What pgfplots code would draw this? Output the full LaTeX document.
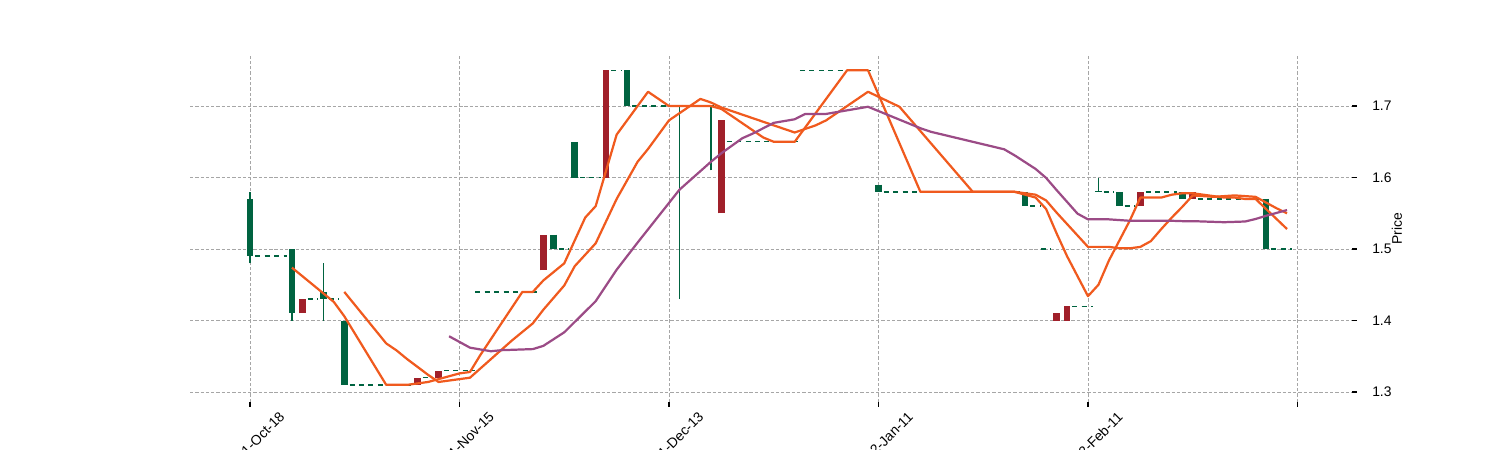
\documentclass[border=0pt]{standalone}
\usepackage{fontspec}
\setmainfont{Liberation Sans}
\usepackage{pgfplots}
\pgfplotsset{compat=1.18}
\definecolor{cgreen}{HTML}{006340}
\definecolor{cred}{HTML}{A0202A}
\definecolor{corange}{HTML}{F05A1E}
\definecolor{cpurple}{HTML}{9B4B86}
\begin{document}
\begin{tikzpicture}
\begin{axis}[
  at={(136.8pt,34.56pt)}, anchor=south west,
  scale only axis, width=836.6pt, height=249.1pt,
  xmin=-5.73, xmax=105.2, ymin=1.286, ymax=1.770,
  axis line style={draw=none},
  xtick={0,20,40,60,80,100},
  xticklabels={2021-Oct-18,2021-Nov-15,2021-Dec-13,2022-Jan-11,2022-Feb-11,{}},
  ytick={1.3,1.4,1.5,1.6,1.7},
  yticklabel pos=right, ytick pos=right, xtick pos=bottom,
  tick align=outside, major tick length=3.6pt,
  tick style={black, line width=0.9pt},
  grid=major,
  major grid style={black!35, line width=0.55pt, dash pattern=on 2.4pt off 1.4pt},
  /pgf/number format/assume math mode=true,
  yticklabel style={/pgf/number format/fixed, /pgf/number format/fixed zerofill, /pgf/number format/precision=1, font=\fontsize{10}{12}\selectfont, xshift=7.5pt},
  xticklabel style={font=\fontsize{10}{12}\selectfont, rotate=45, anchor=north east, xshift=16pt, yshift=-13pt},
  ylabel={Price},
  every axis y label/.style={at={(axis description cs:1.0387,0.5)}, rotate=90, anchor=center, font=\fontsize{10}{12}\selectfont},
  clip=false,
]
% filler days (dashed)
\addplot[cgreen, line width=1pt, dash pattern=on 3.6pt off 3.2pt, unbounded coords=jump] coordinates {
(0.5,1.49) (3.5,1.49) (3.5,nan)
(5.5,1.43) (6.5,1.43) (6.5,nan)
(7.5,1.43) (8.5,1.43) (8.5,nan)
(9.5,1.31) (15.5,1.31) (15.5,nan)
(16.5,1.32) (17.5,1.32) (17.5,nan)
(18.5,1.33) (21.5,1.33) (21.5,nan)
(21.5,1.44) (27.5,1.44) (27.5,nan)
(29.5,1.50) (30.5,1.50) (30.5,nan)
(31.5,1.60) (33.5,1.60) (33.5,nan)
(34.5,1.75) (35.5,1.75) (35.5,nan)
(36.5,1.70) (40.5,1.70) (40.5,nan)
(41.5,1.70) (43.5,1.70) (43.5,nan)
(45.5,1.65) (52.5,1.65) (52.5,nan)
(52.5,1.75) (59.5,1.75) (59.5,nan)
(60.5,1.58) (73.5,1.58) (73.5,nan)
(74.5,1.56) (75.5,1.56) (75.5,nan)
(75.5,1.50) (76.5,1.50) (76.5,nan)
(78.5,1.42) (80.5,1.42) (80.5,nan)
(81.5,1.58) (82.5,1.58) (82.5,nan)
(83.5,1.56) (84.5,1.56) (84.5,nan)
(85.5,1.58) (88.5,1.58) (88.5,nan)
(90.5,1.57) (96.5,1.57) (96.5,nan)
(97.5,1.50) (99.5,1.50)
};
% wicks (green)
\addplot[cgreen, line width=1.2pt, unbounded coords=jump] coordinates {
(0,1.48) (0,1.58) (0,nan)
(4,1.40) (4,1.50) (4,nan)
(7,1.40) (7,1.48) (7,nan)
(41,1.43) (41,1.70) (41,nan)
(44,1.61) (44,1.70) (44,nan)
(81,1.58) (81,1.60)
};
% bodies (green, falling)
\addplot[cgreen, line width=4.8pt, unbounded coords=jump] coordinates {
(0,1.57) (0,1.49) (0,nan)
(4,1.50) (4,1.41) (4,nan)
(7,1.44) (7,1.43) (7,nan)
(9,1.40) (9,1.31) (9,nan)
(29,1.52) (29,1.50) (29,nan)
(31,1.65) (31,1.60) (31,nan)
(36,1.75) (36,1.70) (36,nan)
(41,1.7015) (41,1.70) (41,nan)
(44,1.7015) (44,1.70) (44,nan)
(60,1.59) (60,1.58) (60,nan)
(74,1.58) (74,1.56) (74,nan)
(81,1.5815) (81,1.58) (81,nan)
(83,1.58) (83,1.56) (83,nan)
(89,1.58) (89,1.57) (89,nan)
(97,1.57) (97,1.50)
};
% bodies (red, rising)
\addplot[cred, line width=4.8pt, unbounded coords=jump] coordinates {
(5,1.41) (5,1.43) (5,nan)
(16,1.31) (16,1.32) (16,nan)
(18,1.32) (18,1.33) (18,nan)
(28,1.47) (28,1.52) (28,nan)
(34,1.60) (34,1.75) (34,nan)
(45,1.55) (45,1.68) (45,nan)
(77,1.40) (77,1.41) (77,nan)
(78,1.40) (78,1.42) (78,nan)
(85,1.56) (85,1.58) (85,nan)
(90,1.57) (90,1.58)
};
% MA5
\addplot[corange, line width=1.6pt, line join=round] coordinates {
(4,1.474)(5,1.462)(6,1.450)(7,1.438)(8,1.426)(9,1.406)(10,1.382)(11,1.358)(12,1.334)(13,1.310)(14,1.310)(15,1.310)(16,1.312)(17,1.314)(18,1.318)(19,1.322)(20,1.326)(21,1.328)(22,1.352)(23,1.374)(24,1.396)(25,1.418)(26,1.440)(27,1.440)(28,1.456)(29,1.468)(30,1.480)(31,1.512)(32,1.544)(33,1.560)(34,1.610)(35,1.660)(36,1.680)(37,1.700)(38,1.720)(39,1.710)(40,1.700)(41,1.700)(42,1.700)(43,1.700)(44,1.700)(45,1.696)(46,1.686)(47,1.676)(48,1.666)(49,1.656)(50,1.650)(51,1.650)(52,1.650)(53,1.670)(54,1.690)(55,1.710)(56,1.730)(57,1.750)(58,1.750)(59,1.750)(60,1.716)(61,1.682)(62,1.648)(63,1.614)(64,1.580)(65,1.580)(66,1.580)(67,1.580)(68,1.580)(69,1.580)(70,1.580)(71,1.580)(72,1.580)(73,1.580)(74,1.576)(75,1.572)(76,1.556)(77,1.522)(78,1.490)(79,1.462)(80,1.434)(81,1.450)(82,1.484)(83,1.512)(84,1.540)(85,1.572)(86,1.572)(87,1.572)(88,1.576)(89,1.578)(90,1.578)(91,1.576)(92,1.574)(93,1.572)(94,1.572)(95,1.570)(96,1.570)(97,1.556)(98,1.542)(99,1.528)
};
% MA10
\addplot[corange, line width=1.6pt, line join=round] coordinates {
(9,1.440)(10,1.422)(11,1.404)(12,1.386)(13,1.368)(14,1.358)(15,1.346)(16,1.335)(17,1.324)(18,1.314)(19,1.316)(20,1.318)(21,1.320)(22,1.333)(23,1.346)(24,1.359)(25,1.372)(26,1.384)(27,1.396)(28,1.415)(29,1.432)(30,1.449)(31,1.476)(32,1.492)(33,1.508)(34,1.539)(35,1.570)(36,1.596)(37,1.622)(38,1.640)(39,1.660)(40,1.680)(41,1.690)(42,1.700)(43,1.710)(44,1.705)(45,1.698)(46,1.693)(47,1.688)(48,1.683)(49,1.678)(50,1.673)(51,1.668)(52,1.663)(53,1.668)(54,1.673)(55,1.680)(56,1.690)(57,1.700)(58,1.710)(59,1.720)(60,1.713)(61,1.706)(62,1.699)(63,1.682)(64,1.665)(65,1.648)(66,1.631)(67,1.614)(68,1.597)(69,1.580)(70,1.580)(71,1.580)(72,1.580)(73,1.580)(74,1.578)(75,1.576)(76,1.568)(77,1.551)(78,1.535)(79,1.519)(80,1.503)(81,1.503)(82,1.503)(83,1.501)(84,1.501)(85,1.503)(86,1.511)(87,1.528)(88,1.544)(89,1.559)(90,1.575)(91,1.574)(92,1.573)(93,1.574)(94,1.575)(95,1.574)(96,1.573)(97,1.565)(98,1.557)(99,1.550)
};
% MA20
\addplot[cpurple, line width=1.6pt, line join=round] coordinates {
(19,1.378)(20,1.370)(21,1.362)(22,1.3595)(23,1.357)(24,1.3585)(25,1.359)(26,1.3595)(27,1.360)(28,1.3645)(29,1.374)(30,1.3835)(31,1.398)(32,1.4125)(33,1.427)(34,1.449)(35,1.471)(36,1.490)(37,1.509)(38,1.5275)(39,1.546)(40,1.5645)(41,1.583)(42,1.596)(43,1.609)(44,1.622)(45,1.634)(46,1.6445)(47,1.655)(48,1.6615)(49,1.669)(50,1.6765)(51,1.679)(52,1.6815)(53,1.689)(54,1.689)(55,1.689)(56,1.6915)(57,1.694)(58,1.6965)(59,1.699)(60,1.693)(61,1.687)(62,1.681)(63,1.675)(64,1.669)(65,1.664)(66,1.6605)(67,1.657)(68,1.6535)(69,1.650)(70,1.6465)(71,1.643)(72,1.6395)(73,1.631)(74,1.6215)(75,1.612)(76,1.5995)(77,1.5825)(78,1.566)(79,1.5495)(80,1.5415)(81,1.5415)(82,1.5415)(83,1.5405)(84,1.5395)(85,1.5395)(86,1.5395)(87,1.5395)(88,1.5395)(89,1.539)(90,1.539)(91,1.5385)(92,1.538)(93,1.5375)(94,1.538)(95,1.5385)(96,1.542)(97,1.5465)(98,1.5505)(99,1.5545)
};
\end{axis}
\pgfresetboundingbox
\path[use as bounding box] (0,0) rectangle (1080pt,324pt);
\end{tikzpicture}
\end{document}
